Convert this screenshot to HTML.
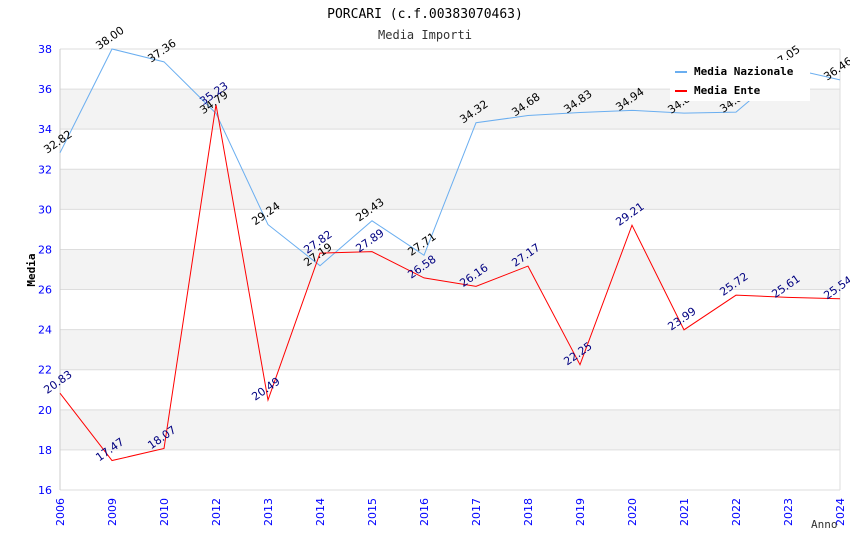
<!DOCTYPE html>
<html><head><meta charset="utf-8"><style>body{margin:0;background:#fff}svg{display:block}</style></head>
<body>
<svg id="chart" width="850" height="550" xmlns="http://www.w3.org/2000/svg" font-family="'DejaVu Sans', 'Liberation Sans', sans-serif">
<text x="425" y="18" text-anchor="middle" font-family="'DejaVu Sans Mono','Liberation Mono',monospace" font-size="13" fill="#000">PORCARI (c.f.00383070463)</text>
<text x="425" y="39" text-anchor="middle" font-family="'DejaVu Sans Mono','Liberation Mono',monospace" font-size="12" fill="#333">Media Importi</text>
<g id="grid"></g><g id="axes"></g><g id="series"></g><g id="labels"></g>
<text x="35" y="270" transform="rotate(-90 35 270)" text-anchor="middle" font-family="'DejaVu Sans Mono',monospace" font-size="11" font-weight="bold">Media</text>
<text x="811" y="528" font-family="'DejaVu Sans Mono',monospace" font-size="11" fill="#333">Anno</text>
<g>
<rect x="670" y="60" width="140" height="41" fill="#fff"/>
<line x1="675" y1="72" x2="687" y2="72" stroke="#6aaef0" stroke-width="2"/>
<text x="694" y="75" font-family="'DejaVu Sans Mono',monospace" font-size="11" font-weight="bold">Media Nazionale</text>
<line x1="675" y1="91" x2="687" y2="91" stroke="#f00" stroke-width="2"/>
<text x="694" y="94" font-family="'DejaVu Sans Mono',monospace" font-size="11" font-weight="bold">Media Ente</text>
</g>
</svg>
<script>
const categories=["2006","2009","2010","2012","2013","2014","2015","2016","2017","2018","2019","2020","2021","2022","2023","2024"];
const nazionale=[32.82,38.00,37.36,34.79,29.24,27.19,29.43,27.71,34.32,34.68,34.83,34.94,34.8,34.85,37.05,36.46];
const ente=[20.83,17.47,18.07,35.23,20.49,27.82,27.89,26.58,26.16,27.17,22.25,29.21,23.99,25.72,25.61,25.54];
const yTicks=[16,18,20,22,24,26,28,30,32,34,36,38];
const NS="http://www.w3.org/2000/svg";
const L=60,R=840,T=49,B=490,yMin=16,yMax=38;
const x=i=>L+i*(R-L)/(categories.length-1);
const y=v=>B-(v-yMin)/(yMax-yMin)*(B-T);
function mk(tag,attrs,parent){const e=document.createElementNS(NS,tag);for(const k in attrs)e.setAttribute(k,attrs[k]);parent.appendChild(e);return e;}
const grid=document.getElementById('grid'),axes=document.getElementById('axes'),series=document.getElementById('series'),labels=document.getElementById('labels');
for(let k=0;k<yTicks.length-1;k++){
  if(k%2===1){const r=mk('rect',{x:L,y:y(yTicks[k+1]),width:R-L,height:y(yTicks[k])-y(yTicks[k+1]),fill:'#f3f3f3'},grid);
  
  }
}
yTicks.forEach(t=>{
  const l=mk('line',{x1:L,x2:R,y1:y(t),y2:y(t),stroke:'#ddd'},grid);
  
  
  const tx=mk('text',{x:L-8,y:y(t)+4,'text-anchor':'end','font-size':11,fill:'#00f'},axes);
  tx.textContent=t;
  
  
});
mk('line',{x1:L,x2:L,y1:T,y2:B,stroke:'#ccc'},axes);
mk('line',{x1:R,x2:R,y1:T,y2:B,stroke:'#ddd'},axes);
categories.forEach((c,i)=>{
  const tx=mk('text',{x:x(i)+4,y:B+8,'text-anchor':'end','font-size':11,fill:'#00f',transform:`rotate(-90 ${x(i)+4} ${B+8})`},axes);
  tx.textContent=c;
  
  
});
function draw(vals,color,lblColor,name){
  const p=mk('polyline',{points:vals.map((v,i)=>x(i)+','+y(v)).join(' '),fill:'none',stroke:color,'stroke-width':1},series);
  
  
  vals.forEach((v,i)=>{
    const cx=x(i),cy=y(v)-8;
    const t=mk('text',{x:cx,y:cy,'text-anchor':'middle','font-size':11,fill:lblColor,transform:`rotate(-35 ${cx} ${cy})`},labels);
    t.textContent=v.toFixed(2);
    
    
  });
}
draw(nazionale,'#6aaef0','#000','nazionale');
draw(ente,'#f00','#000080','ente');
</script>
</body></html>
